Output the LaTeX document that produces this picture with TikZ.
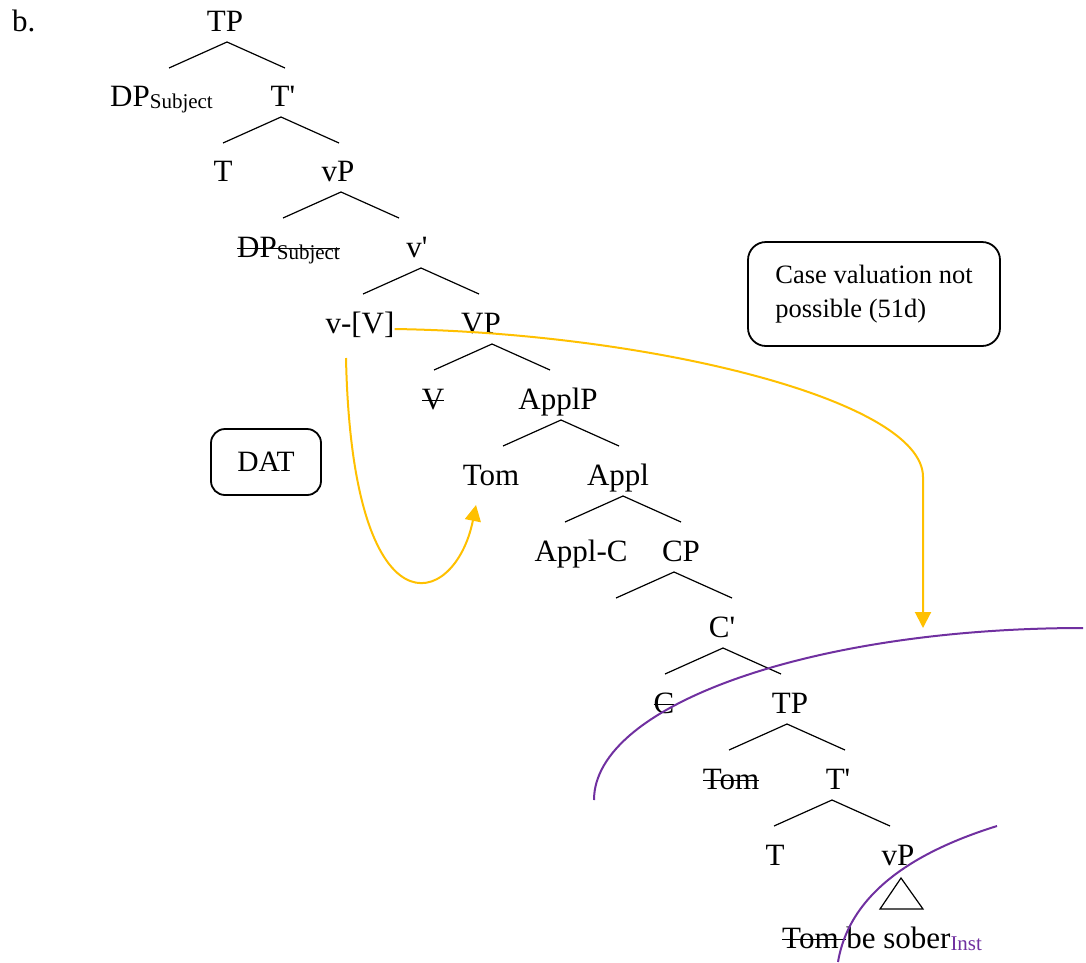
\documentclass[tikz,border=0pt]{standalone}
\usepackage{fontspec}
\setmainfont{Liberation Serif}
\usetikzlibrary{calc,arrows.meta}
\definecolor{gold}{HTML}{FFC000}
\definecolor{arcpurple}{HTML}{7030A0}
\newcommand\strk[1]{\setbox0=\hbox{#1}\rlap{\rule[0.25em]{\wd0}{1.3pt}}\box0}
\newcommand\lowsub[1]{\raisebox{-2pt}{\fontsize{21}{25}\selectfont #1}}
\newcommand\fork[2]{\draw[branch] ($(#1.base)+(#2,11)$) -- +(-58,26) ($(#1.base)+(#2,11)$) -- +(58,26);}
\begin{document}
\begin{tikzpicture}[x=1pt,y=-1pt,
    lbl/.style={anchor=base,inner sep=0pt,font=\fontsize{31}{37}\selectfont},
    branch/.style={line width=1.2pt},
    box/.style={draw,line width=1.8pt,rounded corners=14pt,inner sep=0pt},
    goldarrow/.style={gold,line width=2pt,-{Triangle[length=16pt,width=16pt]}},
    cut/.style={arcpurple,line width=2pt}]
    \useasboundingbox (0,0) rectangle (1086,962);
    % labels of the tree
    \node[lbl,anchor=base west] (ex) at (12,31) {b.};
    \node[lbl] (tp1) at (225,31) {TP};
    \node[lbl,anchor=base west] (dps1) at (110,106) {DP\lowsub{Subject}};
    \node[lbl] (tb1) at (283,106) {T\textquotesingle};
    \node[lbl] (t1) at (223,181) {T};
    \node[lbl] (vp1) at (338,181) {vP};
    \node[lbl,anchor=base west] (dps2) at (237,257) {\strk{DP\lowsub{Subject}}};
    \node[lbl] (vbar) at (417,257) {v\textquotesingle};
    \node[lbl] (vv) at (360,333) {v-[V]};
    \node[lbl] (bigvp) at (481,333) {VP};
    \node[lbl] (v) at (433,409) {\strk{V}};
    \node[lbl] (applp) at (558,409) {ApplP};
    \node[lbl] (tom1) at (491,485) {Tom};
    \node[lbl] (appl) at (618,485) {Appl};
    \node[lbl] (applc) at (581,561) {Appl-C};
    \node[lbl] (cp) at (681,561) {CP};
    \node[lbl] (cbar) at (722,637) {C\textquotesingle};
    \node[lbl] (c) at (664,713) {\strk{C}};
    \node[lbl] (tp2) at (790,713) {TP};
    \node[lbl] (tom2) at (731,789) {\strk{Tom}};
    \node[lbl] (tb2) at (838,789) {T\textquotesingle};
    \node[lbl] (t2) at (775,865) {T};
    \node[lbl] (vp2) at (898,865) {vP};
    \node[lbl,anchor=base west] (leaf) at (782,948) {\strk{Tom\ }be sober\lowsub{\color{arcpurple}Inst}};
    % branches
    \fork{tp1}{2}
    \fork{tb1}{-2}
    \fork{vp1}{3}
    \fork{vbar}{4}
    \fork{bigvp}{11}
    \fork{applp}{3}
    \fork{appl}{5}
    \fork{cp}{-7}
    \fork{cbar}{1}
    \fork{tp2}{-3}
    \fork{tb2}{-6}
    \draw[branch] ($(vp2.base)+(3,13)$) -- +(-21,31) -- +(22,31) -- cycle;
    % boxes
    \node[box,minimum width=110pt,minimum height=66pt,font=\fontsize{29.5}{35}\selectfont] (dat) at (266,462) {DAT};
    \node[box,rounded corners=18pt,minimum width=252pt,minimum height=104pt,align=left,font=\fontsize{26.5}{34}\selectfont] (cv) at (874,294) {Case valuation not\\possible (51d)};
    % arrows
    \coordinate (cvend) at (923,628);
    \draw[goldarrow] ($(vv.base)+(-14,25)$) .. controls +(6,282) and +(-21,105) .. ($(tom1.base)+(-15,20)$);
    \draw[goldarrow] ($(vv.base east)+(0,-4)$) .. controls (650,333) and (923,400) .. (923,477) -- (cvend);
    % phase boundaries
    \draw[cut] (594,800) arc[start angle=180,end angle=90,x radius=489pt,y radius=172pt];
    \draw[cut] (838,962) .. controls (850,890) and (920,850) .. (997,826);
\end{tikzpicture}
\end{document}
